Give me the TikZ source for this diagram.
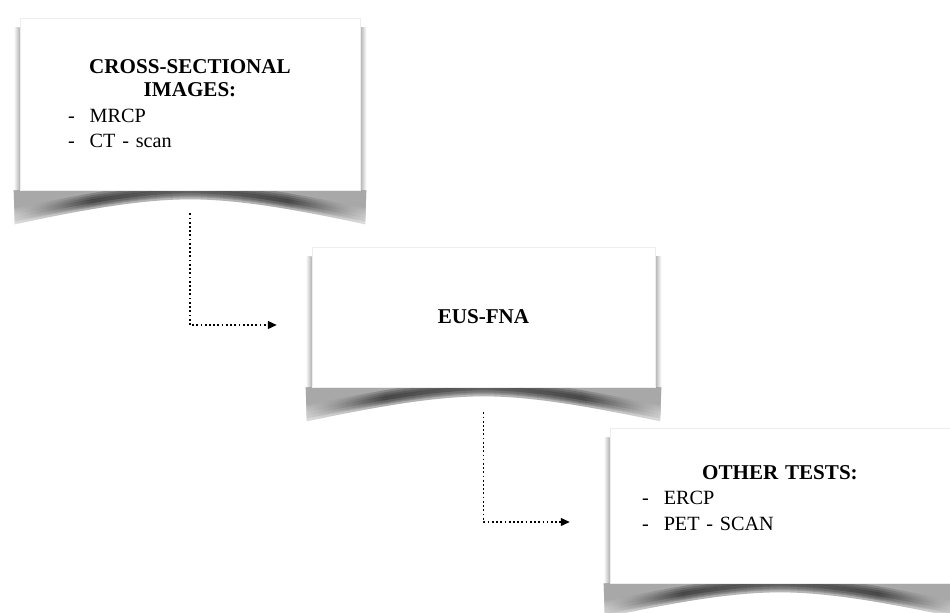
\documentclass[tikz,border=0pt]{standalone}
\usepackage{fontspec}
\setmainfont{Liberation Serif}
\usepackage{tikz}
\usetikzlibrary{arrows.meta}
\usetikzlibrary{backgrounds}
\usetikzlibrary{calc}
\setlength{\parindent}{0pt}
\pgfdeclarehorizontalshading{curl}{100bp}{color(0bp)=(black!15); color(25bp)=(black!15); color(36bp)=(black!95); color(50bp)=(black!80); color(64bp)=(black!95); color(75bp)=(black!15); color(100bp)=(black!15)}
\tikzstyle{card}=[fill=white,draw=black!7,inner sep=0pt,text width=6.8cm,font=\fontsize{11.5}{14.5}\selectfont]
\tikzstyle{flow}=[line width=0.7pt,dash pattern=on 1pt off 1.4pt,-{Triangle[length=5pt,width=4.5pt]}]
\newcommand{\cardhead}[1]{{\centering\fontsize{12}{13}\selectfont\bfseries #1\par}}

\begin{document}
\begin{tikzpicture}[x=0.02cm,y=-0.02cm]
\useasboundingbox (0,0) rectangle (950,612);
\node [card,minimum height=3.44cm] (cs) at (190,104) {%
  \cardhead{CROSS-SECTIONAL\\IMAGES:}
  \hspace*{0.96cm}-\hspace{0.3cm}MRCP\\
  \hspace*{0.96cm}-\hspace{0.3cm}CT - scan};
\node [card,text width=6.86cm,minimum height=2.8cm] (eus) at (483.5,317) {%
  \cardhead{EUS-FNA}};
\node [card,minimum height=3.1cm,text depth=38pt] (oth) at (780,505.5) {%
  \cardhead{OTHER TESTS:}
  \hspace*{0.64cm}-\hspace{0.3cm}ERCP\\
  \hspace*{0.64cm}-\hspace{0.3cm}PET - SCAN};
% curled page shadows
\begin{scope}[on background layer]
\foreach \n in {cs,eus,oth}{
  \shade[left color=white,right color=black!30] ($(\n.north west)+(-6,10)$) rectangle (\n.south west);
  \shade[left color=black!30,right color=white] ($(\n.north east)+(0,10)$) rectangle ($(\n.south east)+(6,0)$);
  \begin{scope}
    \clip ($(\n.south west)+(-8,0)$) rectangle ($(\n.south east)+(8,50)$);
    % soft grey body
    \foreach \k in {0,...,3}{
      \fill[black!45,fill opacity=0.3]
        ($(\n.south west)+(-6,0)$) -- ($(\n.south west)+(-5,34-3*\k)$)
        .. controls ($(\n.south)+(-110,20-3*\k)$) and ($(\n.south)+(-50,9-3*\k)$) .. ($(\n.south)+(0,9-3*\k)$)
        .. controls ($(\n.south)+(50,9-3*\k)$) and ($(\n.south)+(110,20-3*\k)$) .. ($(\n.south east)+(5,34-3*\k)$)
        -- ($(\n.south east)+(6,0)$) -- cycle;
    }
    % dark band along the curl
    \foreach \k in {0,...,3}{
      \shade[shading=curl,fill opacity=0.22]
        ($(\n.south west)+(-5,34-2*\k)$)
        .. controls ($(\n.south)+(-110,20-2*\k)$) and ($(\n.south)+(-50,9-2*\k)$) .. ($(\n.south)+(0,9-2*\k)$)
        .. controls ($(\n.south)+(50,9-2*\k)$) and ($(\n.south)+(110,20-2*\k)$) .. ($(\n.south east)+(5,34-2*\k)$)
        -- ($(\n.south east)+(5,18+2*\k)$)
        .. controls ($(\n.south)+(110,4+2*\k)$) and ($(\n.south)+(50,-7+2*\k)$) .. ($(\n.south)+(0,-7+2*\k)$)
        .. controls ($(\n.south)+(-50,-7+2*\k)$) and ($(\n.south)+(-110,4+2*\k)$) .. ($(\n.south west)+(-5,18+2*\k)$)
        -- cycle;
    }
  \end{scope}
}
\end{scope}
\draw [flow,shorten <=0.46cm,shorten >=0.7cm] (cs.south) |- ([yshift=-0.16cm]eus.west);
\draw [flow,shorten <=0.5cm,shorten >=0.8cm] (eus.south) |- ([yshift=-0.33cm]oth.west);
\end{tikzpicture}
\end{document}
